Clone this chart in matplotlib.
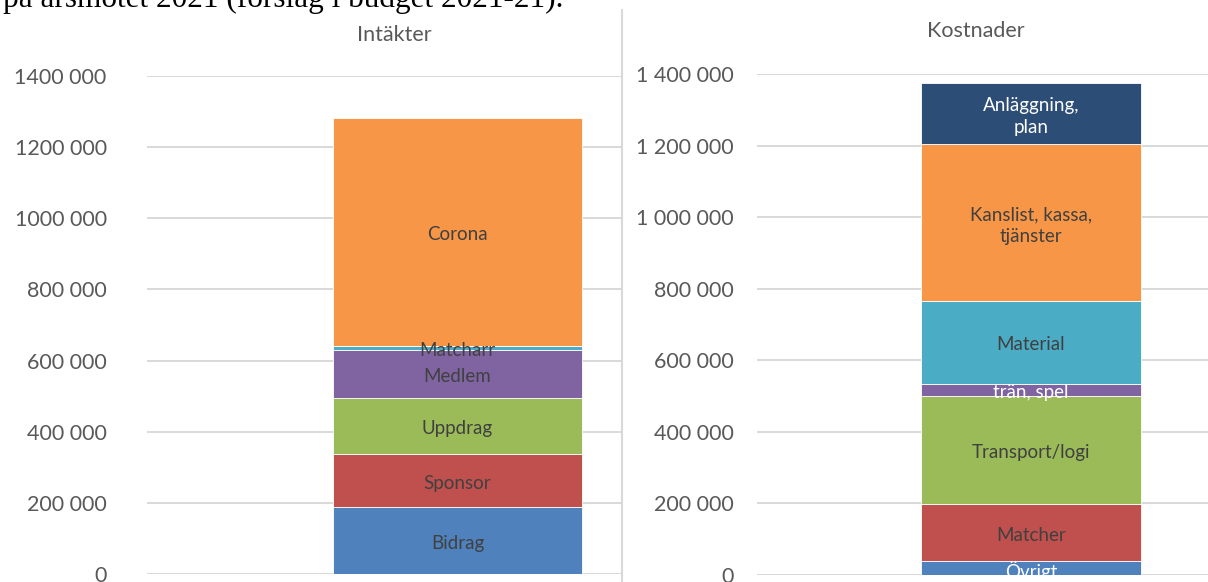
"""Stacked budget bars: income (Intäkter) vs costs (Kostnader)."""

import matplotlib
matplotlib.use("Agg")
import matplotlib.pyplot as plt
from matplotlib.lines import Line2D

W, H = 1208, 582

# --- data -------------------------------------------------------------------
inc_labels = ["Bidrag", "Sponsor", "Uppdrag", "Medlem", "Matcharr", "Corona"]
inc_values = [188000, 150000, 157000, 136000, 9000, 642000]

cost_labels = ["Övrigt", "Matcher", "Transport/logi", "trän, spel", "Material",
               "Kanslist, kassa,\ntjänster", "Anläggning,\nplan"]
cost_values = [38000, 160000, 302000, 35000, 231000, 437000, 172000]

yticks = [0, 200000, 400000, 600000, 800000, 1000000, 1200000, 1400000]
inc_ticklabels = ["0", "200 000", "400 000", "600 000", "800 000",
                  "1000 000", "1200 000", "1400 000"]
cost_ticklabels = ["0", "200 000", "400 000", "600 000", "800 000",
                   "1 000 000", "1 200 000", "1 400 000"]

# --- styles -----------------------------------------------------------------
inc_colors = ["#4f81bd", "#c0504d", "#9bbb59", "#8064a2", "#4bacc6", "#f79646"]
cost_colors = ["#4f81bd", "#c0504d", "#9bbb59", "#8064a2", "#4bacc6",
               "#f79646", "#2c4d75"]
inc_txt = ["#404040"] * 6
cost_txt = ["white", "#404040", "#404040", "white", "#404040", "#404040", "white"]

FONT = "Lato"
GRID = "#d9d9d9"
GREY = "#595959"


def px_box(x0, x1, ybot, ytop):
    return [x0 / W, 1 - ybot / H, (x1 - x0) / W, (ybot - ytop) / H]


def stacked(ax, values, labels, colors, txtcolors, ticklabels, pad):
    bottom = 0
    for v, lab, c, tc in zip(values, labels, colors, txtcolors):
        ax.bar(0, v, bottom=bottom, width=0.4, color=c,
               edgecolor="white", linewidth=0.6, zorder=2)
        # Excel puts the label a touch below the segment centre
        ax.annotate(lab, (0, bottom + v / 2), xytext=(0, -2),
                    textcoords="offset points", ha="center", va="center",
                    color=tc, fontsize=13.5, family=FONT, zorder=3,
                    linespacing=1.3)
        bottom += v
    ax.set_ylim(0, 1400000)
    ax.set_yticks(yticks)
    ax.set_yticklabels(ticklabels, family=FONT, fontsize=15.5, color=GREY)
    ax.set_xticks([])
    ax.tick_params(axis="y", length=0, pad=pad)
    ax.grid(axis="y", color=GRID, lw=1.4, zorder=0)
    ax.set_axisbelow(True)
    for s in ax.spines.values():
        s.set_visible(False)


fig = plt.figure(figsize=(W / 100, H / 100), dpi=100)

ax1 = fig.add_axes(px_box(147, 622, 574, 76))
stacked(ax1, inc_values, inc_labels, inc_colors, inc_txt, inc_ticklabels, 29)
ax1.set_xlim(-0.5, -0.5 + 475 / 621)   # chart continues under the right one

ax2 = fig.add_axes(px_box(757, 1208, 575, 74))
stacked(ax2, cost_values, cost_labels, cost_colors, cost_txt, cost_ticklabels, 17)
ax2.set_xlim(-0.5, -0.5 + 451 / 548)   # cropped at the image edge

fig.text(394 / W, 1 - 35 / H, "Intäkter", ha="center", va="center",
         family=FONT, fontsize=15.5, color=GREY)
fig.text(976 / W, 1 - 31 / H, "Kostnader", ha="center", va="center",
         family=FONT, fontsize=15.5, color=GREY)

# border of the right chart
fig.add_artist(Line2D([622 / W, 622 / W], [0, 1 - 10 / H], color=GRID, lw=1.5))

# surrounding document text, cut off at the top
fig.text(3 / W, 1 - 7 / H, "på årsmötet 2021 (förslag i budget 2021-21).",
         ha="left", va="baseline", family="Liberation Serif", fontsize=22.5,
         color="black")

fig.savefig("out.png", dpi=100)
